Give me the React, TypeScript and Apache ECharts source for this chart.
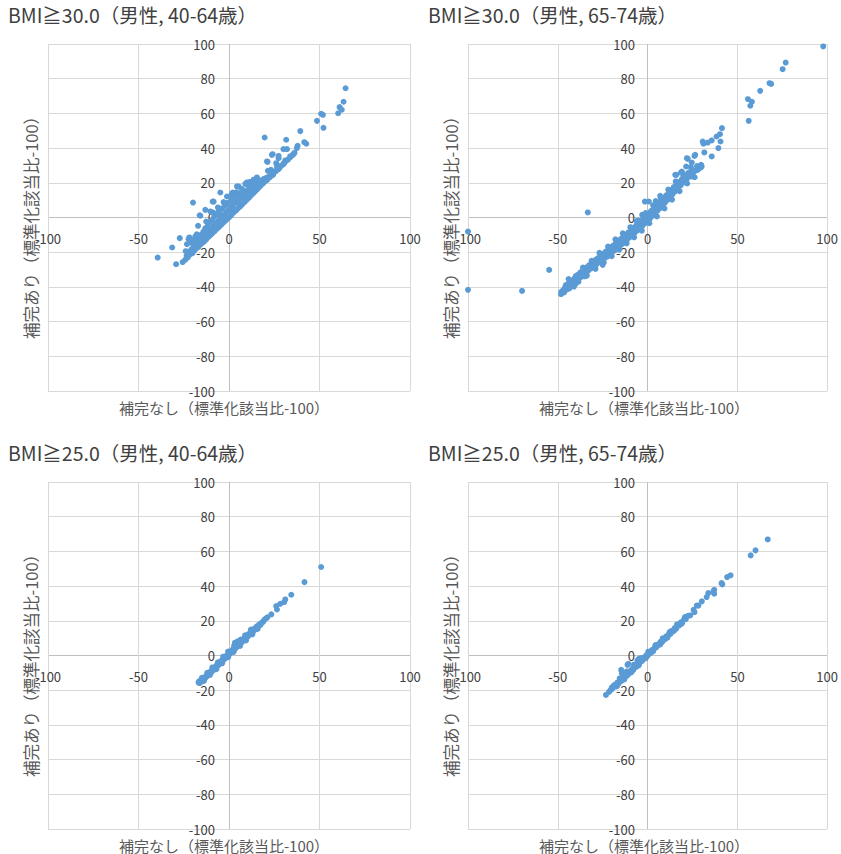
import React, { useEffect, useRef } from "react";
import * as echarts from "echarts";

const panelTitles = [
  "BMI≧30.0（男性, 40-64歳）",
  "BMI≧30.0（男性, 65-74歳）",
  "BMI≧25.0（男性, 40-64歳）",
  "BMI≧25.0（男性, 65-74歳）",
];
const xAxisTitle = "補完なし（標準化該当比-100）";
const yAxisTitle = "補完あり（標準化該当比-100）";

type P = [number, number];

// BMI>=30, 40-64
const obese4064Outliers: P[] = [
  [64.4,74.5],[63.3,66.7],[61.1,63.6],[62.3,62.1],[60.3,60.1],[50.9,59.8],[51.9,59.2],[48.6,55.7],[52.2,51.7],[39.4,49.8],
  [19.7,46.1],[31.6,44.8],[41.6,43.4],[42.7,42.5],[37.9,41.3],[37.5,40.0],[32.0,39.4],[35.7,36.7],[24.1,36.5],[27.4,35.5],
  [33.8,35.2],[31.1,32.9],[21.3,32.1],[26.1,31.3],[30.2,30.9],[28.3,29.4],[27.4,27.9],[23.2,27.5],[21.5,26.9],[24.3,24.6],
  [15.4,23.1],[21.0,21.7],[11.0,20.2],[9.0,19.4],[4.4,17.9],[-4.8,14.4],[2.0,14.4],[-1.1,12.1],[-19.9,8.6],[-9.0,9.2],
  [-16.2,1.3],[-17.1,-4.8],[-27.2,-11.9],[-31.4,-17.3],[-39.4,-23.1],[-29.2,-26.9],[-25.6,-25.7],[-21.9,-11.5],[-23.2,-15.4],
  [1.3,13.1],[-8.5,9.2],[-15.8,1.0],[-22.3,-12.5],[-18.6,-11.0],[-13.1,4.4],[-10.3,3.5],[-1.1,8.3],[5.3,17.9],[9.9,20.2],
  [15.4,22.7],[21.0,32.3],[23.7,36.1],[27.4,34.2],[26.5,29.4],[30.1,39.4],
];
const obese4064Band: P[] = [
  [-24.1,-24.3],[-23.4,-22.1],[-22.8,-23.0],[-22.0,-19.6],[-21.5,-21.2],[-20.7,-18.4],[-20.2,-20.6],[-19.6,-16.8],[-19.1,-18.9],
  [-18.5,-14.2],[-18.2,-18.0],[-17.6,-16.3],[-17.0,-12.5],[-16.8,-16.9],[-16.1,-14.0],[-15.7,-10.1],[-15.3,-15.2],[-14.8,-12.4],
  [-14.2,-8.3],[-14.0,-14.1],[-13.5,-11.0],[-13.1,-6.2],[-12.7,-12.8],[-12.2,-9.4],[-11.8,-4.9],[-11.5,-11.3],[-11.0,-7.8],
  [-10.6,-2.7],[-10.3,-10.2],[-9.8,-6.5],[-9.4,-1.6],[-9.1,-9.0],[-8.7,-5.1],[-8.2,0.4],[-7.9,-7.8],[-7.5,-3.7],[-7.0,1.8],
  [-6.8,-6.6],[-6.3,-2.4],[-5.9,3.1],[-5.6,-5.5],[-5.2,-1.0],[-4.7,4.6],[-4.4,-4.3],[-4.0,0.3],[-3.6,5.2],[-3.3,-3.1],
  [-2.9,1.6],[-2.4,6.9],[-2.1,-2.0],[-1.7,2.8],[-1.2,7.4],[-0.9,-0.8],[-0.5,4.1],[0.2,8.6],[0.3,0.4],[0.8,5.0],[1.4,10.2],
  [1.5,1.7],[2.0,6.3],[2.6,3.0],[3.1,8.1],[3.6,11.9],[3.9,4.1],[4.3,9.0],[4.9,5.2],[5.4,10.6],[5.8,13.7],[6.2,6.4],
  [6.7,11.2],[7.3,7.6],[7.7,12.9],[8.1,15.6],[8.5,8.8],[9.0,13.8],[9.6,10.0],[10.0,15.2],[10.4,18.5],[10.9,11.3],[11.5,16.1],
  [12.0,12.6],[12.4,17.3],[12.9,19.8],[13.3,13.9],[13.8,18.0],[14.4,15.1],[14.9,19.6],[15.5,16.2],[15.9,21.0],[16.5,17.3],
  [17.1,20.4],[17.6,18.5],[18.2,21.6],[18.8,19.7],[19.3,22.3],[19.9,20.8],[20.6,22.9],[21.2,21.9],[22.0,23.6],[22.7,23.3],
  [23.5,24.8],[24.4,25.0],[25.3,26.4],[26.1,26.9],[27.0,28.3],[28.0,28.8],[29.1,30.0],[30.3,31.2],[31.4,32.5],[32.6,33.4],
  [33.9,34.8],[35.1,35.9],[36.2,37.3],
  [-20.5,-14.6],[-17.8,-9.7],[-12.6,-2.3],[-8.9,2.9],[-6.1,5.8],[-3.0,8.9],[0.9,11.6],[4.1,14.5],[6.9,16.6],[11.7,20.5],
  [13.6,21.8],[-23.9,-19.4],[-19.3,-12.8],[-5.0,1.7],[2.4,7.9],[8.8,12.4],[16.2,20.1],[-1.6,-0.1],[5.6,8.2],[10.6,14.0],
];

// BMI>=30, 65-74
const obese6574Outliers: P[] = [
  [97.8,98.6],[76.9,89.3],[75.2,85.5],[67.9,77.4],[68.8,77.0],[62.7,73.0],[55.9,68.2],[58.1,66.7],[57.2,64.4],[56.3,55.7],
  [41.4,51.5],[40.3,48.0],[38.4,46.7],[40.6,43.8],[35.7,44.4],[33.5,43.2],[30.7,43.8],[31.1,42.5],[39.4,40.0],[31.6,37.5],
  [35.7,35.2],[26.1,35.5],[22.4,33.8],[24.6,31.7],[29.8,30.4],[29.6,28.8],[21.5,29.4],[27.0,27.1],[24.3,23.6],[15.4,24.6],
  [18.6,25.9],[-33.3,2.9],[-100,-8.1],[-100,-41.7],[-69.9,-42.3],[-54.8,-30.2],[-48.2,-44.2],[-1.5,9.2],[0.7,9.2],
  [16.0,24.6],[19.1,26.5],[21.9,34.2],[26.5,36.1],[30.1,29.4],
];
const obese6574Band: P[] = [
  [-47.2,-42.1],[-46.0,-40.3],[-45.1,-41.6],[-44.3,-38.2],[-43.0,-39.5],[-42.2,-36.4],[-41.5,-37.8],[-40.6,-35.1],[-39.8,-36.7],
  [-38.9,-33.0],[-38.1,-34.9],[-37.4,-31.6],[-36.5,-33.2],[-35.7,-30.1],[-34.8,-31.9],[-34.0,-28.7],[-33.2,-30.8],[-32.5,-27.4],
  [-31.7,-29.5],[-30.8,-26.0],[-30.1,-28.3],[-29.3,-24.6],[-28.6,-27.1],[-27.8,-23.5],[-27.0,-25.8],[-26.2,-22.1],[-25.5,-24.6],
  [-24.7,-20.9],[-24.0,-23.4],[-23.3,-19.7],[-22.5,-22.6],[-21.8,-18.4],[-21.0,-21.2],[-20.4,-17.2],[-19.7,-20.0],[-19.0,-16.1],
  [-18.3,-18.9],[-17.6,-14.8],[-16.9,-17.6],[-16.2,-13.5],[-15.5,-16.4],[-14.8,-12.3],[-14.1,-15.2],[-13.4,-11.0],[-12.7,-13.9],
  [-12.0,-9.8],[-11.3,-12.6],[-10.6,-8.5],[-9.9,-11.3],[-9.2,-7.2],[-8.5,-10.0],[-7.8,-6.0],[-7.1,-8.7],[-6.4,-4.6],[-5.7,-7.4],
  [-5.0,-3.3],[-4.3,-6.1],[-3.6,-2.0],[-2.9,-4.8],[-2.2,-0.6],[-1.5,-3.4],[-0.8,0.9],[-0.1,-2.1],[0.6,2.4],[1.3,-0.6],
  [2.0,3.8],[2.7,0.9],[3.4,5.3],[4.1,2.4],[4.8,6.8],[5.5,3.9],[6.2,8.2],[6.9,5.4],[7.6,9.7],[8.3,7.0],[9.0,11.2],[9.7,8.6],
  [10.4,12.8],[11.1,10.2],[11.8,14.3],[12.5,11.8],[13.2,15.9],[13.9,13.4],[14.6,17.5],[15.3,15.1],[16.0,19.0],[16.8,16.8],
  [17.6,20.6],[18.4,18.5],[19.2,22.3],[20.0,20.3],[20.9,24.1],[21.8,22.2],[22.7,25.8],[23.6,23.9],[24.5,27.5],[25.4,25.8],
  [-44.0,-35.5],[-41.0,-39.8],[-38.5,-37.0],[-36.0,-28.9],[-33.8,-33.5],[-31.2,-25.0],[-29.0,-29.6],[-26.8,-20.4],[-24.4,-25.9],
  [-22.0,-16.8],[-20.0,-22.3],[-17.9,-12.6],[-15.8,-18.5],[-13.8,-9.1],[-11.7,-14.9],[-9.6,-5.6],[-7.5,-11.4],[-5.3,-1.8],
  [-3.2,-7.6],[-1.1,2.6],[1.0,-3.3],[3.1,7.0],[5.2,0.6],[7.3,11.4],[9.4,5.2],[11.5,16.1],[13.6,10.3],[15.7,20.8],[17.8,15.2],
  [19.9,24.9],[22.0,19.6],[24.1,29.0],[26.2,23.2],[28.1,27.6],[-3.0,1.5],[-6.0,-2.1],[-9.0,-9.3],[-12.5,-10.4],[-18.8,-17.1],
  [-25.0,-27.3],[-28.0,-25.4],[-35.0,-33.9],[-40.0,-33.8],[2.2,1.9],[5.0,4.4],[8.6,8.9],[12.2,13.0],[4.5,9.5],[7.0,12.5],
  [-46.5,-43.2],[-43.6,-40.9],[-42.8,-37.4],[-39.3,-35.9],[-37.0,-34.2],[-35.3,-31.0],[-32.9,-29.2],[-30.5,-27.9],[-28.2,-24.3],
  [-26.5,-24.0],[-24.2,-21.7],[-22.9,-20.6],[-21.3,-19.5],[-19.4,-18.1],[-17.2,-15.9],[-16.6,-14.3],[-14.5,-13.6],[-13.0,-12.2],
  [-11.0,-10.1],[-10.2,-8.9],[-8.1,-8.0],[-6.7,-6.4],[-4.7,-4.6],[-3.9,-3.1],[-2.5,-2.4],[-0.4,-0.3],[0.9,0.8],[1.8,2.2],
  [3.8,3.9],[6.0,6.3],[7.9,8.0],[9.3,10.1],[10.8,11.4],[12.8,13.6],[14.2,15.3],[15.9,16.9],[17.3,18.6],[19.6,21.1],
  [21.4,22.9],[23.1,24.6],[25.0,26.9],[27.5,29.6],[-45.5,-39.0],[-48.0,-42.8],[-40.2,-38.4],
];

// BMI>=25, 40-64
const over4064: P[] = [
  [-16.8,-15.6],[-16.2,-15.9],[-15.7,-14.4],[-15.1,-14.9],[-14.6,-13.7],[-14.0,-13.9],[-13.4,-12.5],[-12.9,-12.8],[-12.3,-11.4],
  [-11.8,-11.6],[-11.2,-10.2],[-10.7,-10.5],[-10.1,-9.1],[-9.6,-9.4],[-9.0,-8.0],[-8.5,-8.3],[-7.9,-6.8],[-7.4,-7.2],[-6.8,-5.7],
  [-6.3,-6.0],[-5.7,-4.6],[-5.2,-4.9],[-4.6,-3.4],[-4.1,-3.8],[-3.5,-2.3],[-3.0,-2.6],[-2.4,-1.1],[-1.9,-1.5],[-1.3,0.0],
  [-0.8,-0.3],[-0.2,1.1],[0.3,0.8],[0.9,2.3],[1.4,1.9],[2.0,3.4],[2.5,3.0],[3.1,4.6],[3.6,4.1],[4.2,5.7],[4.7,5.2],[5.3,6.8],
  [5.8,6.3],[6.4,7.9],[6.9,7.4],[7.5,9.1],[8.0,8.5],[8.6,10.2],[9.1,9.6],[9.7,11.3],[10.2,10.7],[10.8,12.4],[11.3,11.8],
  [11.9,13.5],[12.4,12.9],[13.0,14.6],[13.6,14.1],[14.2,15.7],[14.8,15.2],[15.4,16.8],[16.0,16.4],[16.7,17.9],[17.4,17.6],
  [18.1,19.0],[18.8,19.3],[19.5,20.6],[20.3,21.2],[21.2,22.0],[23.4,23.7],[26.1,28.5],[26.5,26.5],[28.3,29.8],[30.5,30.8],
  [31.1,32.3],[34.4,35.0],[41.7,42.3],[50.9,51.0],[3.3,7.4],[4.8,8.1],[6.5,9.2],
  [-15.0,-12.9],[-12.0,-10.0],[-9.2,-6.9],[-6.1,-3.9],[-3.2,-0.7],[-0.5,2.3],[2.8,5.6],[5.9,8.6],[8.9,11.6],[12.1,14.9],
  [-13.8,-14.6],[-10.5,-11.2],[-7.0,-7.9],[-3.8,-4.5],[-0.4,-0.9],[2.6,2.1],[6.1,5.5],[9.4,8.7],[12.9,12.2],[15.8,15.3],
  [-16.5,-14.9],[-15.4,-15.1],[-13.7,-13.1],[-12.6,-12.0],[-11.5,-10.8],[-10.4,-9.8],[-9.3,-8.6],[-8.2,-7.5],[-7.1,-6.4],
  [-6.0,-5.2],[-4.9,-4.1],[-3.8,-3.0],[-2.7,-1.9],[-1.6,-0.8],[-0.5,0.4],
];

// BMI>=25, 65-74
const over6574: P[] = [
  [-23.2,-22.7],[-19.9,-18.3],[-19.9,-19.4],[-18.6,-17.0],[-17.8,-17.9],[-16.9,-15.6],[-16.1,-16.2],[-15.3,-14.1],[-14.7,-8.3],
  [-14.3,-10.2],[-14.5,-14.6],[-13.6,-12.6],[-12.8,-12.9],[-11.2,-5.4],[-10.7,-4.8],[-12.0,-11.3],[-11.2,-11.4],[-10.4,-9.8],
  [-9.6,-9.9],[-8.8,-8.2],[-8.0,-8.3],[-7.2,-6.6],[-6.4,-6.6],[-5.7,-2.9],[-4.8,-1.9],[-5.6,-5.0],[-4.8,-5.0],[-4.0,-3.4],
  [-3.2,-3.3],[-2.4,-1.8],[-1.6,-1.7],[-0.8,-0.2],[0.0,-0.1],[0.8,1.5],[1.6,1.4],[2.4,3.1],[3.2,3.0],[4.0,4.7],[4.8,4.6],
  [5.6,6.3],[6.4,6.2],[7.2,7.9],[8.0,7.7],[8.8,9.5],[9.6,9.3],[10.4,11.1],[11.2,10.9],[12.0,12.7],[12.8,12.5],[13.6,14.3],
  [14.4,14.0],[15.2,15.9],[16.0,15.6],[16.8,17.4],[17.6,17.3],[18.5,19.1],[19.4,19.2],[20.3,20.9],[21.3,21.0],[22.4,22.8],
  [23.7,23.1],[25.6,26.3],[26.1,25.0],[27.4,28.8],[28.3,28.8],[30.2,31.2],[32.9,33.7],[33.8,36.0],[36.6,36.9],[37.1,37.9],
  [37.1,35.6],[41.2,41.7],[41.6,41.0],[44.3,45.2],[46.2,46.2],[57.4,57.7],[60.1,60.6],[66.9,66.9],
  [-17.0,-17.6],[-13.0,-13.8],[-9.0,-9.6],[-5.0,-5.7],[-1.0,-1.6],[3.0,2.3],[7.0,6.4],[11.0,10.3],[15.0,14.6],[19.0,18.3],
  [-15.5,-13.1],[-11.6,-9.2],[-7.6,-5.3],[-3.6,-1.5],[0.4,2.2],[4.4,6.0],[8.4,9.9],[12.4,13.6],[16.4,17.9],[20.8,22.2],
  [-21.5,-21.0],[-20.6,-19.9],[-18.2,-17.5],[-17.3,-16.6],[-15.7,-15.0],[-14.0,-13.3],[-13.2,-12.2],[-12.4,-11.9],[-11.6,-10.7],
  [-10.8,-10.3],[-10.0,-9.2],[-9.2,-8.8],[-8.4,-7.6],[-7.6,-7.2],[-6.8,-6.0],[-6.0,-5.6],[-5.2,-4.4],[-4.4,-4.0],[-3.6,-2.8],
  [-2.8,-2.4],[-2.0,-1.2],[-1.2,-0.8],[-0.4,0.4],[0.4,0.6],[1.2,2.0],
];

const panelData: P[][] = [
  [...obese4064Outliers, ...obese4064Band],
  [...obese6574Outliers, ...obese6574Band],
  over4064,
  over6574,
];

const xTicks = { min: -100, max: 100, interval: 50 };
const yTicks = { min: -100, max: 100, interval: 20 };

const FONT = '"Noto Sans CJK JP", "Noto Sans", sans-serif';
const GRID_C = "#d9d9d9";
const ZERO_C = "#bfbfbf";

export default function App() {
  const ref = useRef<HTMLDivElement>(null);
  useEffect(() => {
    if (!ref.current) return;
    const chart = echarts.init(ref.current, null, { renderer: "svg" });
    const grids = [
      { left: 48, top: 44 },
      { left: 468, top: 44 },
      { left: 48, top: 482 },
      { left: 468, top: 482 },
    ];
    const W = 362;
    const H = 347;
    const graphic: any[] = [];
    grids.forEach((g) => {
      graphic.push({
        type: "text",
        x: g.left + W / 2 - 5,
        y: g.top + H + 16,
        style: {
          text: xAxisTitle,
          font: `15px ${FONT}`,
          lineHeight: 15,
          fill: "#595959",
          textAlign: "center",
          textVerticalAlign: "middle",
        },
      });
      graphic.push({
        type: "text",
        x: g.left - 17,
        y: g.top + H / 2 + 6,
        rotation: Math.PI / 2,
        style: {
          text: yAxisTitle,
          font: `16.5px ${FONT}`,
          lineHeight: 16.5,
          fill: "#595959",
          textAlign: "center",
          textVerticalAlign: "middle",
        },
      });
    });
    const xSplitColors = [GRID_C, GRID_C, ZERO_C, GRID_C, GRID_C];
    const ySplitColors = [GRID_C, GRID_C, GRID_C, GRID_C, GRID_C, ZERO_C, GRID_C, GRID_C, GRID_C, GRID_C, GRID_C];
    const labelStyle = { fontSize: 13, lineHeight: 13, color: "#404040", fontFamily: FONT, hideOverlap: false };
    const option: any = {
      animation: false,
      backgroundColor: "#ffffff",
      title: grids.map((g, i) => ({
        text: panelTitles[i],
        left: g.left - 40,
        top: g.top - 39,
        padding: 0,
        textStyle: { fontSize: 19.5, fontWeight: "normal", color: "#404040", fontFamily: FONT },
      })),
      grid: grids.map((g) => ({ left: g.left, top: g.top, width: W, height: H, containLabel: false })),
      xAxis: grids.map((_, i) => ({
        type: "value",
        gridIndex: i,
        position: "bottom",
        offset: -H / 2,
        min: xTicks.min,
        max: xTicks.max,
        interval: xTicks.interval,
        axisLine: { show: false, onZero: false },
        axisTick: { show: false },
        axisLabel: { margin: 14, ...labelStyle },
        splitLine: { show: true, lineStyle: { color: xSplitColors, width: 1 } },
      })),
      yAxis: grids.map((_, i) => ({
        type: "value",
        gridIndex: i,
        position: "left",
        offset: -W / 2,
        min: yTicks.min,
        max: yTicks.max,
        interval: yTicks.interval,
        axisLine: { show: false, onZero: false },
        axisTick: { show: false },
        axisLabel: { margin: 14, ...labelStyle },
        splitLine: { show: true, lineStyle: { color: ySplitColors, width: 1 } },
      })),
      series: panelData.map((d, i) => ({
        type: "scatter",
        xAxisIndex: i,
        yAxisIndex: i,
        data: d,
        symbol: "circle",
        symbolSize: 6,
        clip: false,
        itemStyle: { color: "#5B9BD5", opacity: 1 },
      })),
      graphic,
    };
    chart.setOption(option);
    return () => chart.dispose();
  }, []);
  return (
    <div
      ref={ref}
      style={{ position: "absolute", left: 0, top: 0, width: 841, height: 854, background: "#fff" }}
    />
  );
}
